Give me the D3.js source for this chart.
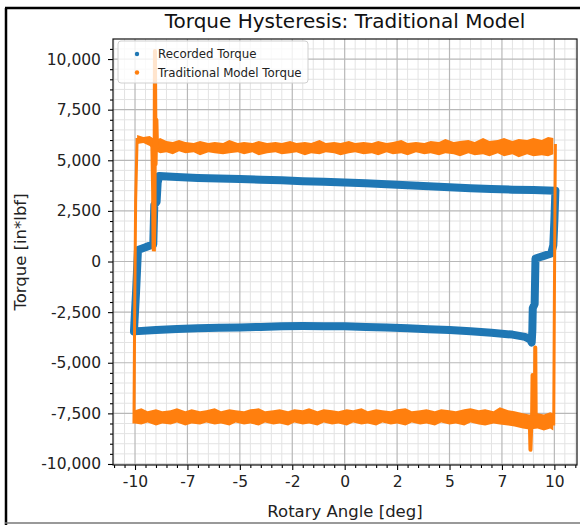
<!DOCTYPE html>
<html>
<head>
<meta charset="utf-8">
<script src="https://cdn.jsdelivr.net/npm/d3@7"></script>
<style>
  body { margin: 0; background: #fff; }
  svg { display: block; font-family: "DejaVu Sans", sans-serif; }
</style>
</head>
<body>
<svg id="chart" width="580" height="525"></svg>
<script>
// axis ticks
var xTicks = [-10, -7.5, -5, -2.5, 0, 2.5, 5, 7.5, 10];
var xTickLabels = ["-10", "-7", "-5", "-2", "0", "2", "5", "7", "10"];
var yTicks = [-10000, -7500, -5000, -2500, 0, 2500, 5000, 7500, 10000];
var yTickLabels = ["-10,000", "-7,500", "-5,000", "-2,500", "0", "2,500", "5,000", "7,500", "10,000"];

// recorded torque, traced around the loop [angle, torque]
var recordedLoop = [
  [-10.05, -3450], [-9, -3380], [-8, -3330], [-7, -3300], [-6, -3270], [-5, -3260],
  [-4, -3230], [-3, -3200], [-2, -3190], [-1, -3200], [0, -3200], [1, -3230],
  [2, -3260], [3, -3300], [4, -3340], [5, -3380], [6, -3440], [7, -3520],
  [8, -3610], [8.6, -3720], [8.85, -3850], [8.92, -4000],
  [8.95, -3400], [8.97, -2300], [9.06, -2100], [9.1, 150], [9.5, 280], [9.85, 400],
  [9.95, 800], [10.0, 2000], [10.05, 3500],
  [9, 3530], [8, 3550], [7, 3580], [6, 3620], [5, 3670], [4, 3720], [3, 3770],
  [2, 3820], [1, 3860], [0, 3900], [-1, 3940], [-2, 3970], [-3, 4010], [-4, 4040],
  [-5, 4070], [-6, 4100], [-7, 4130], [-8, 4170], [-8.85, 4220],
  [-8.92, 3900], [-8.97, 2950], [-9.08, 2800], [-9.13, 850], [-9.5, 700], [-9.86, 570],
  [-9.95, -1500], [-10.05, -3450]
];

// traditional model torque, upper band [angle, high, low]
var modelTopBand = [
  [-9.9, 6250, 5800], [-9.6, 6150, 5850], [-9.3, 6200, 5700], [-9.0, 6000, 5450],
  [-8.8, 6100, 5350], [-8.5, 5950, 5400], [-8.2, 5900, 5300], [-7.9, 6000, 5450],
  [-7.6, 5900, 5350], [-7.2, 5850, 5400], [-6.9, 5950, 5250], [-6.5, 5850, 5400],
  [-6.2, 5900, 5350], [-5.8, 5850, 5300], [-5.5, 6000, 5350], [-5.1, 5850, 5400],
  [-4.8, 5900, 5300], [-4.4, 5850, 5400], [-4.1, 5950, 5250], [-3.7, 5850, 5350],
  [-3.3, 5900, 5400], [-3.0, 5850, 5300], [-2.6, 5950, 5350], [-2.3, 5850, 5400],
  [-1.9, 5900, 5250], [-1.6, 5850, 5350], [-1.2, 6000, 5300], [-0.9, 5850, 5400],
  [-0.5, 5900, 5350], [-0.2, 5850, 5250], [0.2, 5950, 5350], [0.5, 5850, 5400],
  [0.9, 5900, 5300], [1.3, 5850, 5350], [1.6, 5950, 5250], [2.0, 5850, 5400],
  [2.3, 5900, 5300], [2.7, 6000, 5350], [3.0, 5850, 5250], [3.4, 5900, 5400],
  [3.8, 5850, 5300], [4.1, 5950, 5350], [4.5, 5900, 5250], [4.8, 6050, 5350],
  [5.2, 5900, 5300], [5.5, 5950, 5200], [5.9, 6000, 5350], [6.2, 5900, 5250],
  [6.6, 6100, 5300], [6.9, 5950, 5200], [7.3, 6000, 5350], [7.6, 6100, 5200],
  [8.0, 5950, 5300], [8.3, 6050, 5150], [8.7, 6000, 5300], [9.0, 6100, 5200],
  [9.4, 6000, 5250], [9.7, 6150, 5200], [9.95, 6100, 5300]
];

// traditional model torque, lower band [angle, high, low]
var modelBottomBand = [
  [-10.0, -7350, -8000], [-9.7, -7250, -8050], [-9.4, -7400, -7950], [-9.0, -7300, -8100],
  [-8.7, -7400, -8000], [-8.3, -7350, -8050], [-8.0, -7250, -7950], [-7.6, -7400, -8100],
  [-7.3, -7300, -8000], [-6.9, -7400, -8050], [-6.6, -7350, -7950], [-6.2, -7250, -8050],
  [-5.9, -7400, -8000], [-5.5, -7300, -8100], [-5.2, -7350, -7950], [-4.8, -7400, -8050],
  [-4.5, -7300, -8000], [-4.1, -7250, -8100], [-3.8, -7400, -7950], [-3.4, -7350, -8050],
  [-3.1, -7300, -8000], [-2.7, -7400, -8100], [-2.4, -7300, -7950], [-2.0, -7350, -8050],
  [-1.7, -7250, -8000], [-1.3, -7400, -8100], [-1.0, -7300, -7950], [-0.6, -7350, -8050],
  [-0.3, -7400, -8000], [0.1, -7300, -8100], [0.4, -7350, -7950], [0.8, -7250, -8050],
  [1.1, -7400, -8000], [1.5, -7300, -8100], [1.8, -7350, -7950], [2.2, -7400, -8050],
  [2.5, -7300, -8000], [2.9, -7250, -8100], [3.2, -7400, -7950], [3.6, -7350, -8050],
  [3.9, -7300, -8000], [4.3, -7400, -8100], [4.6, -7300, -7950], [5.0, -7350, -8050],
  [5.3, -7400, -8000], [5.7, -7300, -8100], [6.0, -7250, -7950], [6.4, -7350, -8050],
  [6.7, -7300, -8100], [7.1, -7400, -8000], [7.4, -7200, -8050], [7.8, -7350, -8100],
  [8.1, -7400, -8150], [8.5, -7500, -8250], [8.8, -7550, -8300], [9.2, -7500, -8250],
  [9.5, -7550, -8350], [9.8, -7450, -8250], [9.95, -7500, -8350]
];

// traditional model torque, transitions and spikes [angle, torque]
var modelLeftRise = [[-10.05, -8000], [-10.02, -3000], [-9.97, 3000], [-9.9, 6100]];
var modelLeftDrop = [[-9.2, 5900], [-9.16, 3500], [-9.14, 600]];
var modelLeftSpike = [[-9.1, 500], [-9.07, 2300], [-9.05, 10400], [-9.02, 4800], [-8.98, 7000], [-8.95, 5600]];
var modelRightRise = [[9.97, -8100], [10.0, -2000], [10.03, 3000], [10.05, 5800]];
var modelRightDip = [[8.83, -7900], [8.86, -9300], [8.9, -8000]];
var modelRightSpikeA = [[8.94, -7600], [8.96, -5600], [8.98, -7600]];
var modelRightSpikeB = [[9.07, -7600], [9.09, -4250], [9.11, -7600]];

var blue = "#1f77b4", orange = "#ff7f0e";

var svg = d3.select("#chart");
var pLeft = 113, pRight = 577, pTop = 39, pBottom = 465;

var x = d3.scaleLinear().domain([-11.05, 11.08]).range([pLeft, pRight]);
var y = d3.scaleLinear().domain([-10050, 10990]).range([pBottom, pTop]);

// minor ticks every 1/5 of a major step
var xMinor = d3.range(-11, 11.01, 0.5).filter(function(v) { return xTicks.indexOf(v) < 0; });
var yMinor = d3.range(-10000, 10501, 500).filter(function(v) { return yTicks.indexOf(v) < 0; });

// outer frame of the screenshot
svg.append("line").attr("x1", 6).attr("x2", 6).attr("y1", 8).attr("y2", 525)
  .attr("stroke", "#000").attr("stroke-width", 2.5);
svg.append("line").attr("x1", 5).attr("x2", 580).attr("y1", 8).attr("y2", 8)
  .attr("stroke", "#000").attr("stroke-width", 2.5);
svg.append("line").attr("x1", 5).attr("x2", 580).attr("y1", 523).attr("y2", 523)
  .attr("stroke", "#777").attr("stroke-width", 1.5);

// grid
var grid = svg.append("g");
grid.selectAll(".xm").data(xMinor).enter().append("line")
  .attr("x1", d => x(d)).attr("x2", d => x(d)).attr("y1", pTop).attr("y2", pBottom)
  .attr("stroke", "#e3e3e3").attr("stroke-width", 1);
grid.selectAll(".ym").data(yMinor).enter().append("line")
  .attr("y1", d => y(d)).attr("y2", d => y(d)).attr("x1", pLeft).attr("x2", pRight)
  .attr("stroke", "#e3e3e3").attr("stroke-width", 1);
grid.selectAll(".xM").data(xTicks).enter().append("line")
  .attr("x1", d => x(d)).attr("x2", d => x(d)).attr("y1", pTop).attr("y2", pBottom)
  .attr("stroke", "#b8b8b8").attr("stroke-width", 1.2);
grid.selectAll(".yM").data(yTicks).enter().append("line")
  .attr("y1", d => y(d)).attr("y2", d => y(d)).attr("x1", pLeft).attr("x2", pRight)
  .attr("stroke", "#b8b8b8").attr("stroke-width", 1.2);

// data
var plot = svg.append("g");
var line = d3.line().x(d => x(d[0])).y(d => y(d[1]));
var band = d3.area().x(d => x(d[0])).y0(d => y(d[2])).y1(d => y(d[1]));

plot.append("path").attr("d", line(recordedLoop))
  .attr("fill", "none").attr("stroke", blue).attr("stroke-width", 8)
  .attr("stroke-linejoin", "round").attr("stroke-linecap", "round");

plot.append("path").attr("d", band(modelTopBand)).attr("fill", orange);
plot.append("path").attr("d", band(modelBottomBand)).attr("fill", orange);
[modelLeftRise, modelLeftDrop, modelRightRise].forEach(function(seg) {
  plot.append("path").attr("d", line(seg)).attr("fill", "none")
    .attr("stroke", orange).attr("stroke-width", 3).attr("stroke-linejoin", "round");
});
[modelLeftSpike, modelRightDip, modelRightSpikeA, modelRightSpikeB].forEach(function(seg) {
  plot.append("path").attr("d", line(seg)).attr("fill", "none")
    .attr("stroke", orange).attr("stroke-width", 4).attr("stroke-linejoin", "round");
});

// axes
svg.append("g").attr("transform", "translate(0," + pBottom + ")")
  .call(d3.axisBottom(x).tickValues(xTicks).tickSize(5).tickPadding(6)
    .tickFormat((d, i) => xTickLabels[i]));
svg.append("g").attr("transform", "translate(0," + pBottom + ")")
  .call(d3.axisBottom(x).tickValues(xMinor).tickSize(3).tickFormat(""));
svg.append("g").attr("transform", "translate(" + pLeft + ",0)")
  .call(d3.axisLeft(y).tickValues(yTicks).tickSize(5).tickPadding(7)
    .tickFormat((d, i) => yTickLabels[i]));
svg.append("g").attr("transform", "translate(" + pLeft + ",0)")
  .call(d3.axisLeft(y).tickValues(yMinor).tickSize(3).tickFormat(""));
svg.selectAll(".domain").remove();
svg.selectAll(".tick line").attr("stroke", "#000").attr("stroke-width", 1.1);
svg.selectAll(".tick text").attr("font-family", "DejaVu Sans").attr("font-size", 15.5).attr("fill", "#222");

// spines
svg.append("rect").attr("x", pLeft).attr("y", pTop).attr("width", pRight - pLeft).attr("height", pBottom - pTop)
  .attr("fill", "none").attr("stroke", "#111").attr("stroke-width", 1.2);

// titles
svg.append("text").attr("x", (pLeft + pRight) / 2).attr("y", 28).attr("text-anchor", "middle")
  .attr("font-size", 20).attr("fill", "#111").text("Torque Hysteresis: Traditional Model");
svg.append("text").attr("x", (pLeft + pRight) / 2).attr("y", 517).attr("text-anchor", "middle")
  .attr("font-size", 16.5).attr("fill", "#222").text("Rotary Angle [deg]");
svg.append("text").attr("transform", "translate(26," + (pTop + pBottom) / 2 + ") rotate(-90)")
  .attr("text-anchor", "middle").attr("font-size", 16.5).attr("fill", "#222").text("Torque [in*lbf]");

// legend
var lg = svg.append("g");
lg.append("rect").attr("x", 118).attr("y", 41).attr("width", 190).attr("height", 42).attr("rx", 3)
  .attr("fill", "#fff").attr("fill-opacity", 0.8).attr("stroke", "#d0d0d0");
var legendItems = [["Recorded Torque", blue], ["Traditional Model Torque", orange]];
legendItems.forEach(function(it, i) {
  lg.append("circle").attr("cx", 137).attr("cy", 54 + i * 18.5).attr("r", 2.2).attr("fill", it[1]);
  lg.append("text").attr("x", 158).attr("y", 54 + i * 18.5).attr("dy", "0.35em")
    .attr("font-size", 11.8).attr("fill", "#222").text(it[0]);
});
</script>
</body>
</html>
